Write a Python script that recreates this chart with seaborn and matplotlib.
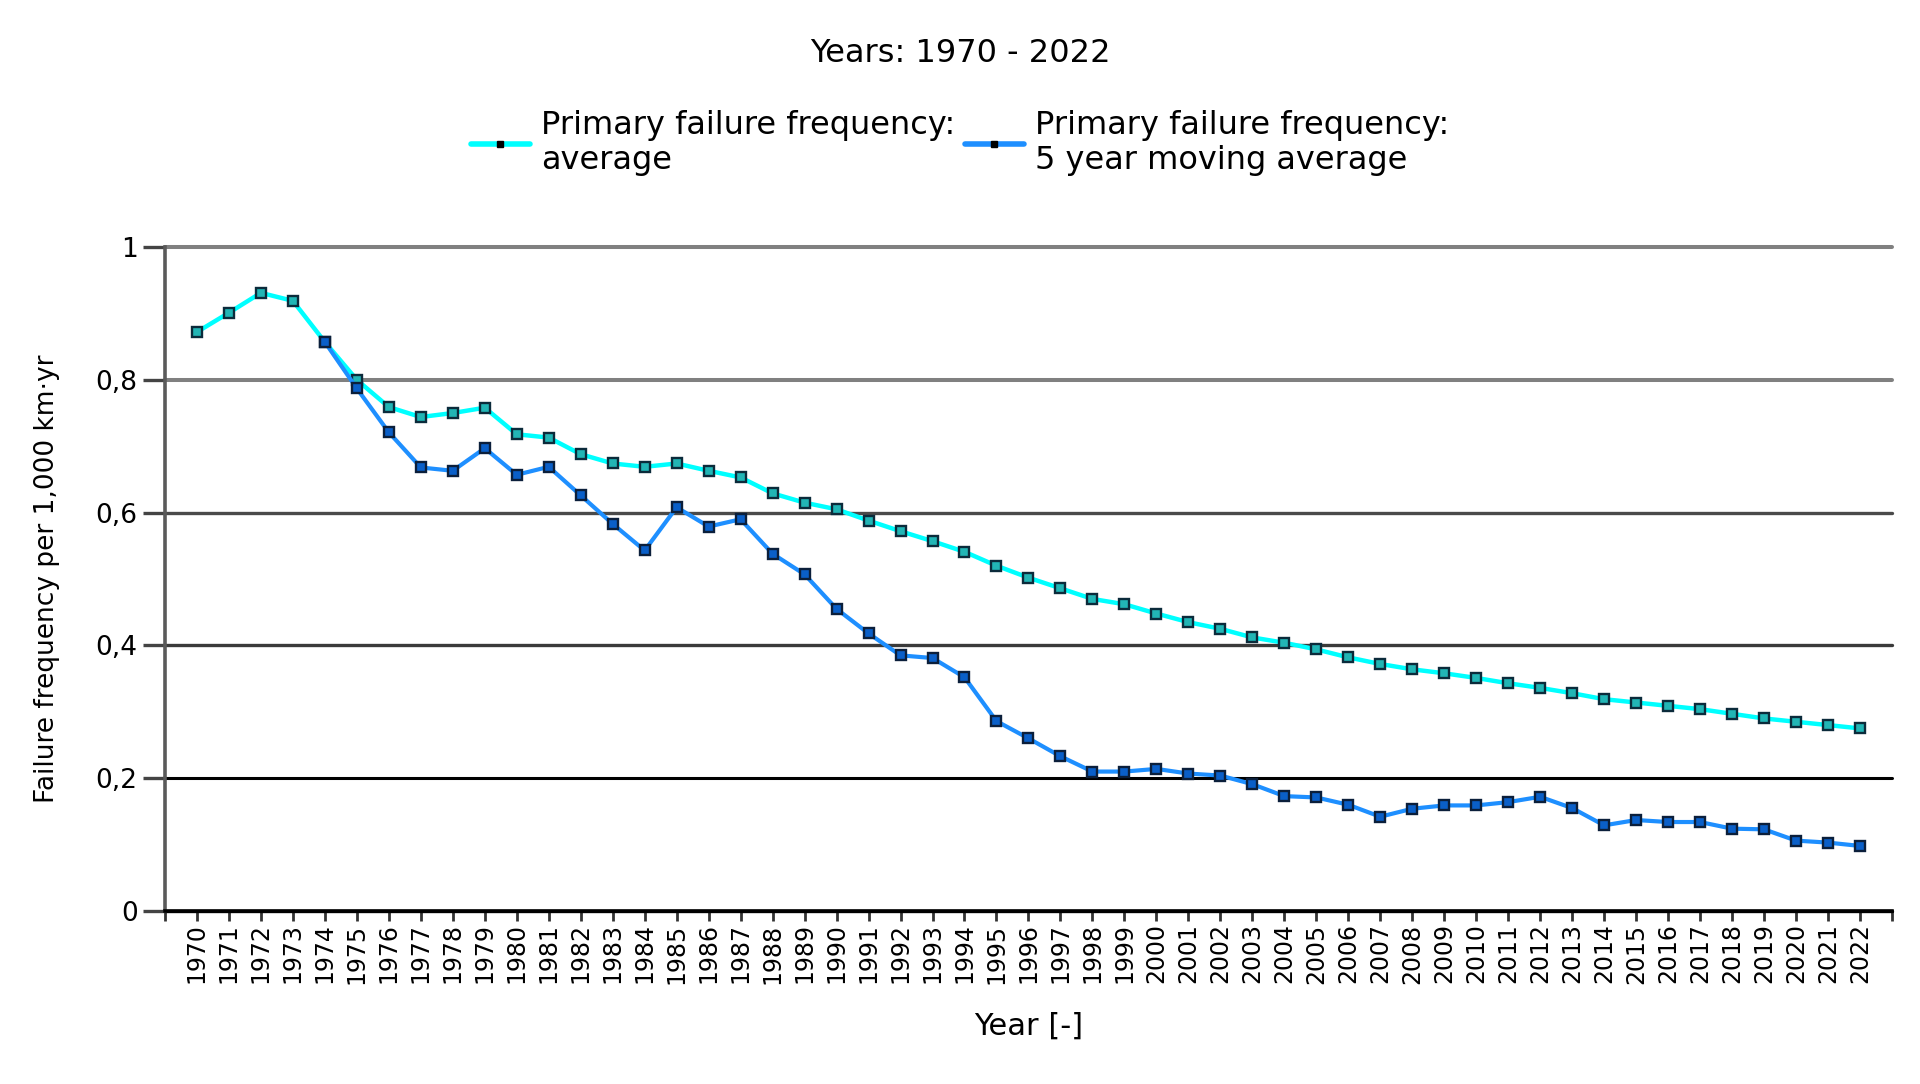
import matplotlib
matplotlib.use("Agg")
import matplotlib.pyplot as plt
from matplotlib.lines import Line2D
import seaborn as sns

# values
years = list(range(1970, 2023))
avg_freq = [0.872, 0.901, 0.931, 0.919, 0.857, 0.800, 0.759, 0.744, 0.750, 0.758,
            0.718, 0.713, 0.688, 0.674, 0.669, 0.674, 0.663, 0.653, 0.629, 0.615,
            0.605, 0.588, 0.572, 0.557, 0.541, 0.520, 0.502, 0.486, 0.470, 0.462,
            0.448, 0.435, 0.425, 0.412, 0.404, 0.394, 0.382, 0.372, 0.364, 0.358,
            0.351, 0.343, 0.336, 0.328, 0.319, 0.314, 0.309, 0.304, 0.297, 0.290,
            0.285, 0.280, 0.275]

ma_years = list(range(1974, 2023))
ma_freq = [0.857, 0.787, 0.721, 0.668, 0.663, 0.697, 0.657, 0.669, 0.626, 0.583,
           0.543, 0.608, 0.579, 0.590, 0.538, 0.507, 0.455, 0.418, 0.385, 0.381,
           0.352, 0.286, 0.260, 0.233, 0.210, 0.210, 0.214, 0.207, 0.204, 0.191,
           0.173, 0.171, 0.160, 0.142, 0.154, 0.159, 0.159, 0.164, 0.172, 0.155,
           0.129, 0.137, 0.134, 0.134, 0.124, 0.123, 0.106, 0.103, 0.098]

y_ticks = [0, 0.2, 0.4, 0.6, 0.8, 1.0]
y_tick_labels = ["0", "0,2", "0,4", "0,6", "0,8", "1"]
legend_labels = ["Primary failure frequency:\naverage",
                 "Primary failure frequency:\n5 year moving average"]

sns.set_theme(style="white")
plt.rcParams["font.family"] = ["DejaVu Sans"]
plt.rcParams["text.color"] = "black"
plt.rcParams["axes.labelcolor"] = "black"
plt.rcParams["xtick.labelcolor"] = "black"
plt.rcParams["ytick.labelcolor"] = "black"

fig = plt.figure(figsize=(19.2, 10.84), dpi=100)
ax = fig.add_axes([0.0859, 0.1596, 0.8995, 0.6125])

cyan = "#00ffff"
blue = "#1e8fff"

sns.lineplot(x=years, y=avg_freq, ax=ax, color=cyan, lw=3.2,
             marker="s", markersize=7.5, markerfacecolor="#22b5b5",
             markeredgecolor="#0b2b3b", markeredgewidth=1.7, zorder=3)
sns.lineplot(x=ma_years, y=ma_freq, ax=ax, color=blue, lw=3.0,
             marker="s", markersize=7.5, markerfacecolor="#0a5fc8",
             markeredgecolor="#0b1f3b", markeredgewidth=1.7, zorder=4)

ax.set_xlim(1969, 2023)
ax.set_ylim(0, 1)

# x ticks: every year, plus unlabeled ones at the axis ends
xt = list(range(1969, 2024))
ax.set_xticks(xt)
ax.set_xticklabels([""] + [str(y) for y in years] + [""])
ax.set_yticks(y_ticks)
ax.set_yticklabels(y_tick_labels)

ax.tick_params(axis="y", length=16, width=2.4, pad=3.6, labelsize=19,
               color="#444444", left=True)
ax.tick_params(axis="x", length=7, width=2, pad=2, labelsize=17,
               labelrotation=90, color="#333333", bottom=True)

ax.yaxis.grid(True)
ax.xaxis.grid(False)
grid_colors = ["black", "black", "#3a3a3a", "#4a4a4a", "#808080", "#808080"]
grid_widths = [2.4, 2.2, 2.4, 2.4, 2.9, 2.9]
for gl, c, w in zip(ax.get_ygridlines(), grid_colors, grid_widths):
    gl.set_color(c)
    gl.set_linewidth(w)
    gl.set_clip_on(False)

for side in ["top", "right"]:
    ax.spines[side].set_visible(False)
ax.spines["left"].set_color("#5a5a5a")
ax.spines["left"].set_linewidth(2.6)
ax.spines["bottom"].set_color("black")
ax.spines["bottom"].set_linewidth(2.6)

ax.set_xlabel("Year [-]", fontsize=22)
ax.xaxis.set_label_coords(0.5, -0.151)
ax.set_ylabel("Failure frequency per 1,000 km·yr", fontsize=19)
ax.yaxis.set_label_coords(-0.061, 0.5)

fig.text(0.5, 1 - 53 / 1084, "Years: 1970 - 2022", ha="center", va="center",
         fontsize=23)

handles = [
    Line2D([], [], color=cyan, lw=4, marker="s", markersize=4,
           markerfacecolor="black", markeredgecolor="black"),
    Line2D([], [], color=blue, lw=4, marker="s", markersize=4,
           markerfacecolor="black", markeredgecolor="black"),
]
fig.legend(handles, legend_labels, loc="center", bbox_to_anchor=(0.5, 0.868),
           ncol=2, frameon=False, fontsize=23, handlelength=1.85,
           handletextpad=0.35, columnspacing=0.3)

fig.savefig("out.png", dpi=100)
